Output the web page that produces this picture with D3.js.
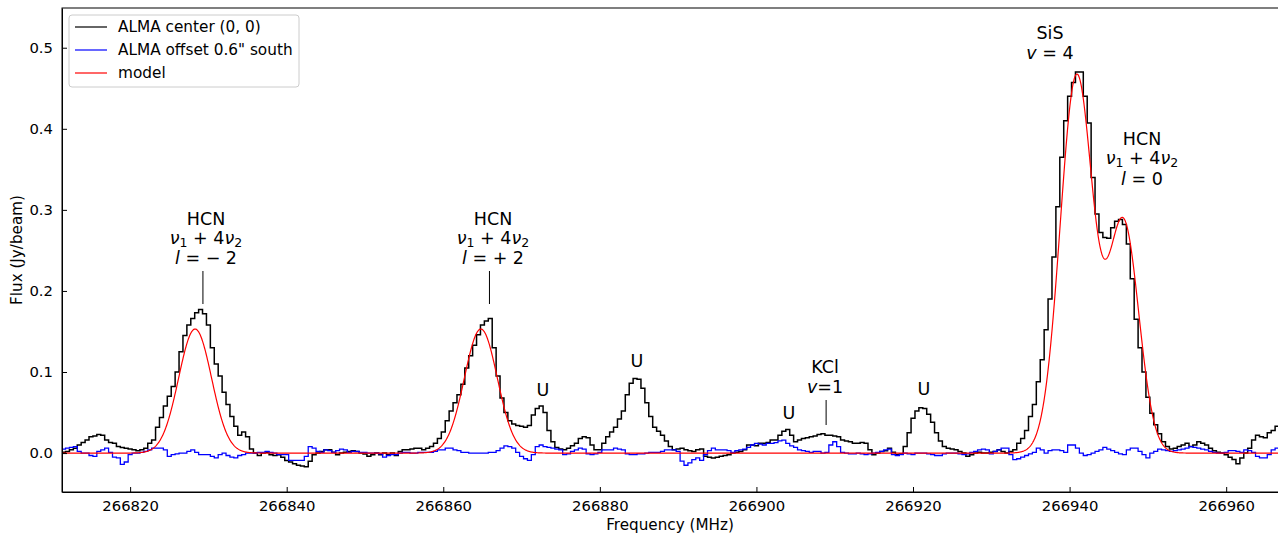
<!DOCTYPE html>
<html lang="en">
<head>
<meta charset="UTF-8">
<title>ALMA spectrum with model</title>
<style>
  body { margin: 0; background: #fff; }
  svg { font-family: "DejaVu Sans", sans-serif; display: block; }
  .tick text { font-size: 14.8px; fill: #000; font-family: "DejaVu Sans", sans-serif; }
  .tick line, .domain { stroke: #000; }
  .ann { font-size: 17.5px; fill: #000; }
</style>
</head>
<body>
<svg id="chart" width="1278" height="537"></svg>
<script src="https://d3js.org/d3.v7.min.js"></script>
<script>
// channel grid (MHz)
const freqStart = 266811.0;
const chanWidth = 0.5;

// ALMA center (0, 0), Jy/beam, one value per channel
const centerFlux = [
  0.000, 0.001, 0.002, 0.004, 0.006, 0.010, 0.013, 0.016, 0.020, 0.021,
  0.023, 0.022, 0.016, 0.013, 0.012, 0.008, 0.007, 0.006, 0.005, 0.004,
  0.003, 0.004, 0.006, 0.012, 0.016, 0.032, 0.044, 0.058, 0.070, 0.082,
  0.100, 0.125, 0.145, 0.158, 0.166, 0.173, 0.177, 0.172, 0.158, 0.130,
  0.110, 0.095, 0.075, 0.060, 0.045, 0.033, 0.022, 0.026, 0.020, 0.005,
  0.000, -0.003, 0.000, 0.001, -0.002, -0.003, -0.002, -0.005, -0.009, -0.011,
  -0.013, -0.015, -0.016, -0.017, -0.010, -0.002, 0.000, 0.002, 0.004, 0.004,
  0.001, -0.002, 0.000, 0.001, 0.002, 0.003, 0.002, 0.000, -0.001, -0.004,
  -0.002, 0.000, -0.002, 0.000, -0.002, 0.000, -0.003, 0.002, 0.004, 0.004,
  0.005, 0.006, 0.006, 0.004, 0.006, 0.008, 0.012, 0.018, 0.026, 0.040,
  0.052, 0.062, 0.072, 0.085, 0.105, 0.120, 0.133, 0.146, 0.158, 0.163,
  0.166, 0.130, 0.095, 0.068, 0.050, 0.040, 0.036, 0.034, 0.033, 0.032,
  0.034, 0.047, 0.055, 0.058, 0.050, 0.028, 0.014, 0.007, 0.005, 0.004,
  0.006, 0.009, 0.012, 0.018, 0.020, 0.019, 0.010, 0.004, 0.004, 0.012,
  0.020, 0.026, 0.032, 0.042, 0.052, 0.072, 0.086, 0.092, 0.091, 0.080,
  0.062, 0.045, 0.032, 0.027, 0.022, 0.015, 0.008, 0.004, 0.005, 0.006,
  0.004, 0.003, 0.002, 0.004, 0.005, -0.004, -0.005, -0.006, -0.005, -0.004,
  -0.003, -0.002, 0.000, 0.001, 0.002, 0.004, 0.010, 0.010, 0.009, 0.012,
  0.012, 0.013, 0.016, 0.016, 0.022, 0.027, 0.029, 0.022, 0.014, 0.016,
  0.018, 0.019, 0.020, 0.021, 0.023, 0.024, 0.022, 0.022, 0.021, 0.020,
  0.016, 0.015, 0.014, 0.012, 0.012, 0.013, 0.012, 0.004, -0.002, 0.000,
  0.002, 0.003, 0.006, 0.001, -0.002, -0.001, 0.008, 0.025, 0.043, 0.052,
  0.056, 0.055, 0.048, 0.038, 0.025, 0.015, 0.008, 0.006, 0.005, 0.004,
  0.002, 0.000, -0.004, -0.002, 0.000, 0.001, 0.000, 0.000, 0.001, 0.002,
  0.004, 0.002, 0.000, 0.002, 0.004, 0.012, 0.018, 0.028, 0.045, 0.060,
  0.088, 0.115, 0.152, 0.190, 0.242, 0.304, 0.365, 0.410, 0.440, 0.457,
  0.470, 0.470, 0.440, 0.407, 0.340, 0.295, 0.272, 0.266, 0.265, 0.278,
  0.286, 0.288, 0.282, 0.258, 0.215, 0.165, 0.130, 0.100, 0.069, 0.049,
  0.035, 0.024, 0.014, 0.008, 0.005, 0.006, 0.008, 0.010, 0.012, 0.008,
  0.010, 0.014, 0.012, 0.010, 0.006, 0.003, 0.001, 0.000, -0.002, -0.005,
  -0.008, -0.013, -0.006, 0.000, 0.006, 0.016, 0.022, 0.020, 0.019, 0.025,
  0.028, 0.033, 0.036
];

// ALMA offset 0.6" south
const offsetFlux = [
  0.004, 0.005, 0.006, 0.007, 0.008, 0.002, 0.000, 0.000, -0.003, -0.004,
  0.002, 0.004, 0.006, 0.001, -0.005, -0.006, -0.014, -0.011, -0.002, 0.000,
  0.000, 0.001, 0.002, 0.004, 0.006, 0.006, 0.006, 0.004, -0.004, -0.002,
  -0.001, 0.000, 0.000, 0.002, 0.004, 0.001, -0.002, -0.002, -0.002, -0.004,
  -0.006, -0.002, 0.000, -0.003, -0.005, -0.006, -0.003, -0.002, 0.000, 0.000,
  0.000, 0.001, 0.001, 0.002, 0.001, 0.000, -0.002, -0.002, -0.002, -0.009,
  -0.009, -0.009, -0.009, -0.004, 0.008, 0.006, 0.002, 0.001, 0.004, 0.003,
  0.001, 0.003, 0.005, 0.004, 0.001, 0.002, 0.002, 0.001, 0.001, 0.000,
  0.000, 0.000, -0.001, -0.005, -0.003, -0.002, -0.002, 0.000, 0.001, 0.001,
  0.000, 0.000, 0.001, 0.001, 0.001, 0.001, 0.002, 0.004, 0.004, 0.006,
  0.006, 0.004, 0.003, 0.001, 0.001, 0.000, 0.000, 0.000, 0.000, 0.000,
  0.001, 0.001, 0.003, 0.006, 0.009, 0.008, 0.006, 0.001, -0.004, -0.007,
  -0.009, -0.002, 0.008, 0.010, 0.008, 0.007, 0.006, 0.005, 0.004, -0.002,
  -0.001, 0.002, 0.004, 0.006, 0.005, -0.001, -0.002, -0.001, 0.001, 0.004,
  0.004, 0.004, 0.006, 0.005, 0.004, -0.001, -0.002, -0.002, -0.001, -0.001,
  0.000, 0.001, 0.001, 0.001, 0.002, 0.004, 0.004, 0.004, 0.002, -0.010,
  -0.015, -0.012, -0.008, -0.006, -0.009, -0.002, 0.003, 0.006, 0.004, 0.004,
  0.004, 0.003, 0.001, 0.003, 0.004, 0.005, 0.007, 0.010, 0.012, 0.011,
  0.010, 0.012, 0.012, 0.013, 0.015, 0.016, 0.012, 0.009, 0.007, 0.004,
  0.003, 0.002, 0.001, 0.002, 0.002, 0.000, 0.001, 0.010, 0.014, 0.008,
  0.001, 0.000, -0.001, -0.001, 0.000, -0.001, -0.002, -0.001, 0.000, 0.001,
  0.002, 0.004, 0.005, -0.002, -0.003, -0.002, 0.000, -0.001, -0.002, 0.000,
  0.000, 0.000, -0.001, -0.002, -0.003, -0.003, -0.001, 0.000, 0.000, 0.000,
  -0.001, -0.002, -0.001, 0.001, 0.002, 0.004, 0.005, 0.004, -0.001, 0.002,
  0.004, 0.006, 0.006, -0.002, -0.008, -0.007, -0.005, -0.003, -0.001, 0.001,
  0.006, 0.004, 0.000, 0.003, 0.004, 0.004, 0.003, 0.001, 0.010, 0.010,
  0.006, 0.000, -0.003, -0.002, 0.000, 0.002, 0.004, 0.007, 0.005, 0.003,
  0.001, -0.001, -0.002, 0.004, 0.006, 0.006, 0.002, -0.002, -0.006, 0.000,
  0.002, 0.005, 0.004, 0.003, 0.002, 0.003, 0.004, 0.005, 0.006, 0.008,
  0.007, 0.006, 0.005, 0.004, 0.002, 0.001, 0.000, 0.000, 0.001, 0.003,
  0.003, 0.002, 0.001, 0.004, 0.003, 0.001, -0.004, -0.006, -0.006, -0.002,
  0.004, 0.006, 0.007
];

// model: gaussian line components (HCN l=-2, HCN l=+2, SiS v=4, HCN l=0)
const modelCenters = [266828.3, 266864.8, 266940.9, 266946.9];
const modelPeaks = [0.153, 0.153, 0.465, 0.282];
const modelSigmas = [2.1, 2.1, 2.1, 1.95];

const xTicks = [266820, 266840, 266860, 266880, 266900, 266920, 266940, 266960];
const yTicks = [0.0, 0.1, 0.2, 0.3, 0.4, 0.5];

const svg = d3.select('#chart');
const pLeft = 62, pRight = 1290, pTop = 8, pBottom = 492;

const x = d3.scaleLinear()
    .domain([266811.3, 266811.3 + (pRight - pLeft) / 7.829])
    .range([pLeft, pRight]);
const y = d3.scaleLinear()
    .domain([-0.048, 0.549])
    .range([pBottom, pTop]);

svg.append('defs').append('clipPath').attr('id', 'plotclip')
    .append('rect')
    .attr('x', pLeft).attr('y', pTop)
    .attr('width', pRight - pLeft).attr('height', pBottom - pTop);

const centerPts = centerFlux.map((v, i) => [freqStart + i * chanWidth, v]);
const offsetPts = offsetFlux.map((v, i) => [freqStart + i * chanWidth, v]);

const modelPts = [];
for (let f = x.domain()[0]; f <= x.domain()[1]; f += 0.05) {
    let s = 0;
    modelCenters.forEach((c, k) => {
        s += modelPeaks[k] * Math.exp(-0.5 * Math.pow((f - c) / modelSigmas[k], 2));
    });
    modelPts.push([f, s]);
}

const stepLine = d3.line()
    .x(d => x(d[0]))
    .y(d => y(d[1]))
    .curve(d3.curveStep);
const smoothLine = d3.line()
    .x(d => x(d[0]))
    .y(d => y(d[1]));

const plot = svg.append('g').attr('clip-path', 'url(#plotclip)');

plot.append('path')
    .datum(centerPts)
    .attr('d', stepLine)
    .attr('fill', 'none')
    .attr('stroke', '#000')
    .attr('stroke-width', 1.5);

plot.append('path')
    .datum(offsetPts)
    .attr('d', stepLine)
    .attr('fill', 'none')
    .attr('stroke', '#0000ff')
    .attr('stroke-width', 1.3);

plot.append('path')
    .datum(modelPts)
    .attr('d', smoothLine)
    .attr('fill', 'none')
    .attr('stroke', '#ff0000')
    .attr('stroke-width', 1.2);

// axes, ticks pointing in
svg.append('g')
    .attr('transform', `translate(0,${pBottom})`)
    .call(d3.axisBottom(x).tickValues(xTicks).tickFormat(d3.format('d'))
        .tickSizeInner(-5).tickSizeOuter(0).tickPadding(8));
svg.append('g')
    .attr('transform', `translate(${pLeft},0)`)
    .call(d3.axisLeft(y).tickValues(yTicks).tickFormat(d3.format('.1f'))
        .tickSizeInner(-5).tickSizeOuter(0).tickPadding(9));

// frame
svg.append('rect')
    .attr('x', pLeft).attr('y', pTop)
    .attr('width', pRight - pLeft).attr('height', pBottom - pTop)
    .attr('fill', 'none').attr('stroke', '#000').attr('stroke-width', 1);

svg.append('text')
    .attr('x', 670).attr('y', 530)
    .attr('text-anchor', 'middle')
    .attr('font-size', 15.2)
    .text('Frequency (MHz)');
svg.append('text')
    .attr('transform', 'translate(22,250) rotate(-90)')
    .attr('text-anchor', 'middle')
    .attr('font-size', 15.2)
    .text('Flux (Jy/beam)');

// annotations
function annText(cx, cy, parts) {
    const t = svg.append('text')
        .attr('class', 'ann')
        .attr('x', cx).attr('y', cy)
        .attr('text-anchor', 'middle')
        .attr('dominant-baseline', 'middle');
    let shift = 0;
    parts.forEach(p => {
        const ts = t.append('tspan').text(p.t);
        if (p.i) ts.attr('font-style', 'italic');
        const want = p.sub ? 4 : 0;
        if (want !== shift) { ts.attr('dy', want - shift); shift = want; }
        if (p.sub) ts.attr('font-size', '12.5px');
    });
}
function nuLine(cx, cy) {
    annText(cx, cy, [
        { t: 'ν', i: true }, { t: '1', sub: true }, { t: ' + 4' },
        { t: 'ν', i: true }, { t: '2', sub: true }
    ]);
}
function tickMark(fx, y1, y2) {
    svg.append('line')
        .attr('x1', x(fx)).attr('x2', x(fx))
        .attr('y1', y1).attr('y2', y2)
        .attr('stroke', '#000').attr('stroke-width', 1);
}

// HCN l = -2
annText(206, 220, [{ t: 'HCN' }]);
nuLine(206, 239);
annText(206, 259, [{ t: 'l', i: true }, { t: ' = \u2212 2' }]);
tickMark(266829.3, 271, 304);

// HCN l = +2
annText(493, 220, [{ t: 'HCN' }]);
nuLine(493, 239);
annText(493, 259, [{ t: 'l', i: true }, { t: ' = + 2' }]);
tickMark(266865.9, 271, 304);

annText(543, 391, [{ t: 'U' }]);
annText(637, 362, [{ t: 'U' }]);
annText(789, 414, [{ t: 'U' }]);
annText(924, 390, [{ t: 'U' }]);

// KCl v=1
annText(825, 368, [{ t: 'KCl' }]);
annText(825, 388, [{ t: 'v', i: true }, { t: '=1' }]);
tickMark(266908.9, 400, 425);

// SiS v = 4
annText(1050, 34, [{ t: 'SiS' }]);
annText(1050, 54, [{ t: 'v', i: true }, { t: ' = 4' }]);

// HCN l = 0
annText(1142, 140, [{ t: 'HCN' }]);
nuLine(1142, 159);
annText(1142, 180, [{ t: 'l', i: true }, { t: ' = 0' }]);

// legend
const legendItems = [
    { label: 'ALMA center (0, 0)', color: '#000' },
    { label: 'ALMA offset 0.6" south', color: '#0000ff' },
    { label: 'model', color: '#ff0000' }
];
const lg = svg.append('g').attr('transform', 'translate(69,15)');
lg.append('rect')
    .attr('width', 230).attr('height', 72)
    .attr('rx', 3)
    .attr('fill', '#fff').attr('fill-opacity', 0.8)
    .attr('stroke', '#ccc');
legendItems.forEach((d, i) => {
    const yy = 12 + i * 23;
    lg.append('line')
        .attr('x1', 6).attr('x2', 38)
        .attr('y1', yy).attr('y2', yy)
        .attr('stroke', d.color).attr('stroke-width', 1.2);
    lg.append('text')
        .attr('x', 49).attr('y', yy)
        .attr('dominant-baseline', 'middle')
        .attr('font-size', 15.3)
        .text(d.label);
});
</script>
</body>
</html>
